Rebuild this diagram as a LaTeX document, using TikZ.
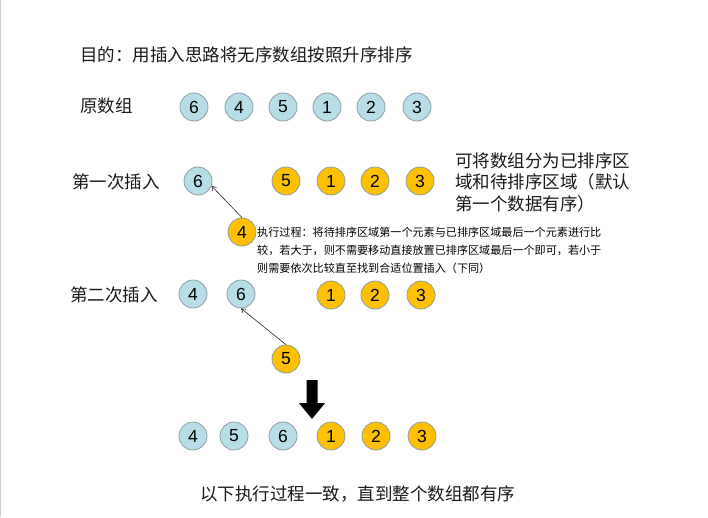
\documentclass[tikz,border=0pt]{standalone}
\usepackage{fontspec}
\setmainfont{Liberation Sans}
\newfontfamily\cjk{Noto Sans CJK SC}
\usetikzlibrary{arrows.meta}
\definecolor{lblue}{RGB}{183,222,230}
\definecolor{orng}{RGB}{255,192,0}
\definecolor{ring}{RGB}{140,158,165}
\definecolor{frame}{RGB}{200,204,214}
\begin{document}
\begin{tikzpicture}[x=1pt,y=-1pt,
  ball/.style={circle, draw=ring, line width=0.8pt, minimum size=28pt, inner sep=0pt,
    font=\fontsize{17.5}{17.5}\selectfont, text=black},
  sball/.style={ball, fill=lblue},
  uball/.style={ball, fill=orng},
  lbl/.style={anchor=west, inner sep=0pt, font=\cjk\fontsize{17.5}{21.5}\selectfont, text=black!90},
  note/.style={anchor=west, inner sep=0pt, align=left, font=\cjk\fontsize{11.1}{18}\selectfont, text=black},
  conn/.style={-{Straight Barb[length=4pt,width=5pt]}, line width=0.6pt, draw=black!85}
]
\useasboundingbox (0,0) rectangle (708,517);
\fill[white] (0,0) rectangle (708,517);
\draw[frame, line width=1.2pt] (0.6,0) -- (0.6,517);

\node[lbl] (title) at (80,55) {目的：用插入思路将无序数组按照升序排序};

% original array
\node[lbl] (orig) at (80,106) {原数组};
\node[sball] (a1) at (194,107) {6};
\node[sball] (a2) at (239,107) {4};
\node[sball] (a3) at (283,107) {5};
\node[sball] (a4) at (327,107) {1};
\node[sball] (a5) at (371,107) {2};
\node[sball] (a6) at (417,107) {3};

% first insertion
\node[lbl] (first) at (72,182) {第一次插入};
\node[sball] (b1) at (198,181) {6};
\node[uball] (b2) at (286,181) {5};
\node[uball] (b3) at (331,181) {1};
\node[uball] (b4) at (375,181) {2};
\node[uball] (b5) at (420,181) {3};
\node[lbl, align=left] (split) at (455,182) {可将数组分为已排序区\\域和待排序区域（默认\\第一个数据有序）};
\node[uball] (i1) at (242,232) {4};
\draw[conn] (i1.north) -- (b1.-20);
\node[note] (proc) at (257,250) {执行过程：将待排序区域第一个元素与已排序区域最后一个元素进行比\\较，若大于，则不需要移动直接放置已排序区域最后一个即可，若小于\\则需要依次比较直至找到合适位置插入（下同）};

% second insertion
\node[lbl] (second) at (70,295) {第二次插入};
\node[sball] (c1) at (193,294) {4};
\node[sball] (c2) at (241,294) {6};
\node[uball] (c3) at (331,295) {1};
\node[uball] (c4) at (375,295) {2};
\node[uball] (c5) at (421,295) {3};
\node[uball] (i2) at (286,359) {5};
\draw[conn] (i2.north) -- (c2.south);

% big down arrow
\fill[black] (306.5,380) -- (317.5,380) -- (317.5,403) -- (325,403) -- (312,419)
  -- (299,403) -- (306.5,403) -- cycle;

% result
\node[sball] (d1) at (193,436) {4};
\node[sball] (d2) at (234,436) {5};
\node[sball] (d3) at (283,436) {6};
\node[uball] (d4) at (331,436) {1};
\node[uball] (d5) at (376,436) {2};
\node[uball] (d6) at (422,436) {3};

\node[lbl] (tail) at (200,494) {以下执行过程一致，直到整个数组都有序};
\end{tikzpicture}
\end{document}
